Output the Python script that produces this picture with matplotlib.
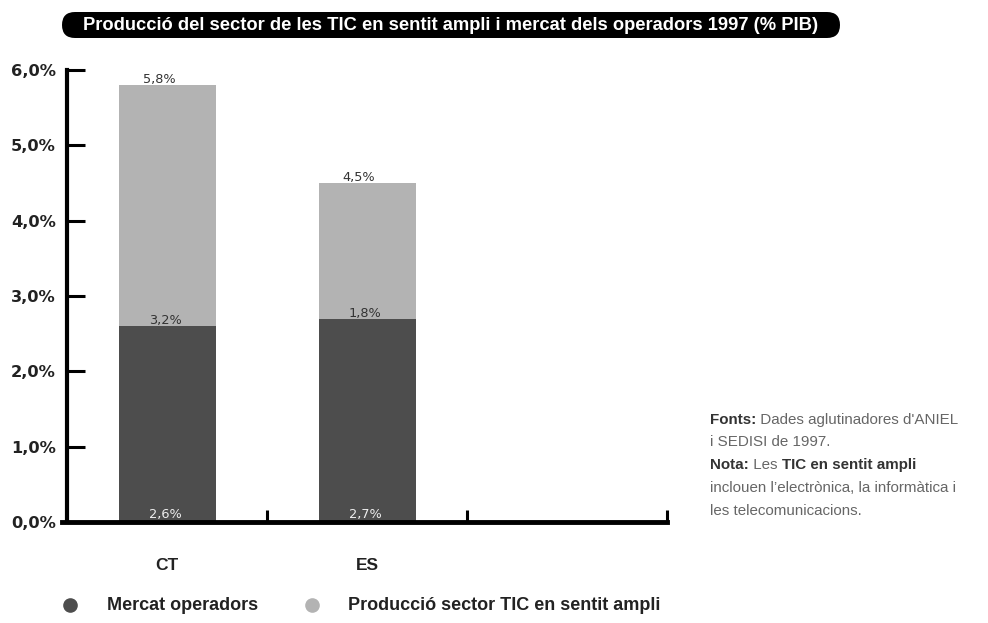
import matplotlib
matplotlib.use("Agg")
import matplotlib.pyplot as plt
from matplotlib.patches import FancyBboxPatch
from matplotlib.transforms import IdentityTransform
from matplotlib.lines import Line2D

categories = ["CT", "ES"]
mercat = [2.6, 2.7]
produccio = [3.2, 1.8]
totals = [5.8, 4.5]
yticks = [0, 1, 2, 3, 4, 5, 6]
ytick_labels = ["0,0%", "1,0%", "2,0%", "3,0%", "4,0%", "5,0%", "6,0%"]
series_names = ["Mercat operadors", "Producció sector TIC en sentit ampli"]
title = "Producció del sector de les TIC en sentit ampli i mercat dels operadors 1997 (% PIB)"

DARK = "#4d4d4d"
LIGHT = "#b3b3b3"
SANS = ["Liberation Sans", "DejaVu Sans"]

W, H = 988, 623
fig = plt.figure(figsize=(W / 100, H / 100), dpi=100)
ax = fig.add_axes([67 / W, 1 - 522 / H, 600 / W, 452 / H])

x = list(range(len(categories)))
ax.bar(x, mercat, width=0.485, color=DARK, zorder=2)
ax.bar(x, produccio, width=0.485, bottom=mercat, color=LIGHT, zorder=2)

ax.set_xlim(-0.5, 2.5)
ax.set_ylim(0, 6)
ax.set_yticks(yticks)
ax.set_yticklabels(ytick_labels, fontsize=11.7, fontweight="bold", color="#222222",
                   family="DejaVu Sans")
ax.tick_params(axis="y", direction="in", length=13, width=2.2, pad=8, colors="#000000",
               labelcolor="#222222")
ax.set_xticks([0.5, 1.5, 2.5])
ax.set_xticklabels([])
ax.tick_params(axis="x", direction="in", length=9, width=2.2)
for s in ["top", "right"]:
    ax.spines[s].set_visible(False)
ax.spines["left"].set_linewidth(3)
ax.spines["bottom"].set_linewidth(3.5)
ax.spines["bottom"].set_bounds(-0.525, 2.5)

# category labels
for xi, c in zip(x, categories):
    ax.annotate(c, xy=(xi, 0), xytext=(0, -44), textcoords="offset pixels",
                ha="center", va="center", fontsize=12.5, fontweight="bold",
                family=SANS, color="#222222")

# value labels
for xi, m, p, t in zip(x, mercat, produccio, totals):
    ax.annotate(f"{m:.1f}%".replace(".", ","), xy=(xi, 0), xytext=(-2, 1),
                textcoords="offset pixels", ha="center", va="bottom",
                fontsize=9.3, color="#eeeeee", family="DejaVu Sans")
    ax.annotate(f"{p:.1f}%".replace(".", ","), xy=(xi, m), xytext=(-2, -1),
                textcoords="offset pixels", ha="center", va="bottom",
                fontsize=9.3, color="#333333", family="DejaVu Sans")
    ax.annotate(f"{t:.1f}%".replace(".", ","), xy=(xi, m + p), xytext=(-8, -1),
                textcoords="offset pixels", ha="center", va="bottom",
                fontsize=9.3, color="#333333", family="DejaVu Sans")

# title box
box = FancyBboxPatch((62, H - 38), 778, 26, boxstyle="round,pad=0,rounding_size=13",
                     transform=IdentityTransform(), facecolor="black", edgecolor="none")
fig.patches.append(box)
fig.text(451 / W, 1 - 25 / H, title, ha="center", va="center", color="white",
         fontsize=13.2, fontweight="bold", family=SANS)

# legend
leg_y = 1 - 605 / H
fig.add_artist(Line2D([70 / W], [leg_y], marker="o", markersize=9.5, color=DARK,
                      linestyle="none", transform=fig.transFigure))
fig.text(107 / W, leg_y, series_names[0], ha="left", va="center", fontsize=13,
         fontweight="bold", family=SANS, color="#222222")
fig.add_artist(Line2D([312 / W], [leg_y], marker="o", markersize=9.5, color=LIGHT,
                      linestyle="none", transform=fig.transFigure))
fig.text(348 / W, leg_y, series_names[1], ha="left", va="center", fontsize=13,
         fontweight="bold", family=SANS, color="#222222")

# notes
lines = [
    [("Fonts:", "bold"), (" Dades aglutinadores d'ANIEL", "normal")],
    [("i SEDISI de 1997.", "normal")],
    [("Nota:", "bold"), (" Les ", "normal"), ("TIC en sentit ampli", "bold")],
    [("inclouen l’electrònica, la informàtica i", "normal")],
    [("les telecomunicacions.", "normal")],
]
ys = [420, 442, 465, 488, 511]
renderer = fig.canvas.get_renderer()
for parts, yy in zip(lines, ys):
    cx = 710
    for txt, wgt in parts:
        t = fig.text(cx / W, 1 - yy / H, txt, ha="left", va="center", fontsize=10.9,
                     fontweight=wgt, family=SANS,
                     color="#333333" if wgt == "bold" else "#666666")
        bb = t.get_window_extent(renderer=renderer)
        cx += bb.width

fig.savefig("out.png", dpi=100)
